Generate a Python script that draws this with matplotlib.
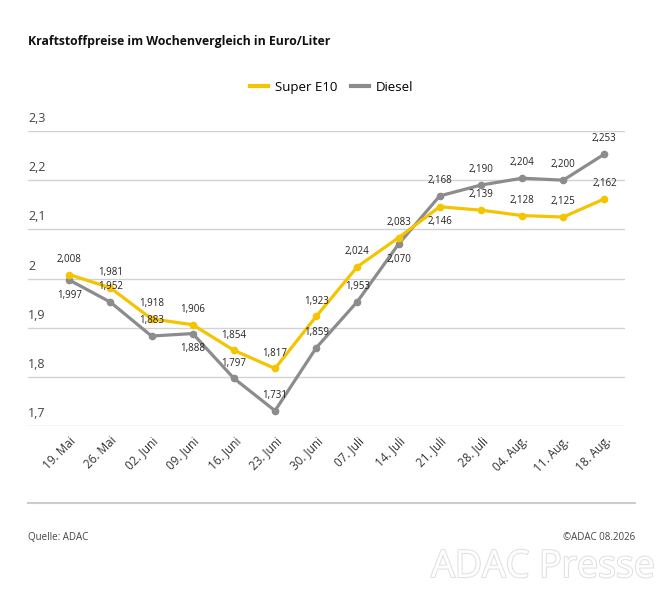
import matplotlib
matplotlib.use("Agg")
import matplotlib.pyplot as plt
import matplotlib.patheffects as pe
from matplotlib.lines import Line2D

plt.rcParams['font.family'] = ['Open Sans', 'DejaVu Sans']

weeks = ["19. Mai", "26. Mai", "02. Juni", "09. Juni", "16. Juni", "23. Juni", "30. Juni",
         "07. Juli", "14. Juli", "21. Juli", "28. Juli", "04. Aug.", "11. Aug.", "18. Aug."]
super_e10 = [2.008, 1.981, 1.918, 1.906, 1.854, 1.817, 1.923, 2.024, 2.083, 2.146, 2.139, 2.128, 2.125, 2.162]
diesel = [1.997, 1.952, 1.883, 1.888, 1.797, 1.731, 1.859, 1.953, 2.070, 2.168, 2.190, 2.204, 2.200, 2.253]
# +1 = label above the point, -1 = below
super_pos = [1, 1, 1, 1, 1, 1, 1, 1, 1, -1, 1, 1, 1, 1]
diesel_pos = [-1, 1, 1, -1, 1, 1, 1, 1, -1, 1, 1, 1, 1, 1]
yticks = [1.7, 1.8, 1.9, 2.0, 2.1, 2.2, 2.3]

YELLOW = "#f5c400"
GREY = "#8c8c8c"
W, H = 663, 600

fig = plt.figure(figsize=(W / 100, H / 100), dpi=100)
ax = fig.add_axes([28 / W, 1 - 426 / H, (625 - 28) / W, (426 - 131) / H])
x = list(range(len(weeks)))

for yt in yticks:
    ax.axhline(yt, color="#d2d2d2", lw=1, zorder=0)
    ax.text(0, yt + 0.012, f"{yt:g}".replace(".", ","), transform=ax.get_yaxis_transform(),
            ha="left", va="bottom", fontsize=9, color="#444444")

ax.plot(x, diesel, color=GREY, lw=2.3, marker="o", ms=4.5, zorder=3)
ax.plot(x, super_e10, color=YELLOW, lw=2.3, marker="o", ms=4.5, zorder=4)

def fmt(v):
    return f"{v:.3f}".replace(".", ",")

for xi, v, p in zip(x, super_e10, super_pos):
    ax.annotate(fmt(v), (xi, v), xytext=(0, 7 * p), textcoords="offset points",
                ha="center", va="bottom" if p > 0 else "top", fontsize=7, color="#222222", zorder=5)
for xi, v, p in zip(x, diesel, diesel_pos):
    ax.annotate(fmt(v), (xi, v), xytext=(0, 7 * p), textcoords="offset points",
                ha="center", va="bottom" if p > 0 else "top", fontsize=7, color="#222222", zorder=5)

ax.set_xlim(-1.0, 13.5)
ax.set_ylim(1.7, 2.3)
ax.set_yticks([])
ax.set_xticks(x)
ax.set_xticklabels(weeks, rotation=45, ha="right", va="top", rotation_mode="anchor",
                   fontsize=8.5, color="#333333")
ax.tick_params(axis="x", length=0, pad=6)
for s in ax.spines.values():
    s.set_visible(False)

fig.text(28 / W, 1 - 42 / H, "Kraftstoffpreise im Wochenvergleich in Euro/Liter",
         fontsize=8.8, fontweight="bold", va="center", ha="left", color="#111111")

handles = [Line2D([], [], color=YELLOW, lw=3), Line2D([], [], color=GREY, lw=3)]
fig.legend(handles, ["Super E10", "Diesel"], loc="center", bbox_to_anchor=(0.5, 1 - 87 / H),
           ncol=2, frameon=False, fontsize=9.5, handlelength=1.4, columnspacing=1.0,
           handletextpad=0.5)

fig.add_artist(Line2D([28 / W, 635 / W], [1 - 503 / H, 1 - 503 / H], color="#cccccc", lw=1.5))
fig.text(28 / W, 1 - 538 / H, "Quelle: ADAC", fontsize=7, color="#444444", va="center", ha="left")
fig.text(635 / W, 1 - 538 / H, "\u00a9ADAC 08.2026", fontsize=7, color="#444444", va="center", ha="right")
fig.text(655 / W, 1 - 567 / H, "ADAC Presse", fontsize=27, color="white", va="center", ha="right",
         path_effects=[pe.withStroke(linewidth=1.5, foreground="#e0e0e0")], zorder=0)

fig.savefig("out.png", dpi=100)
